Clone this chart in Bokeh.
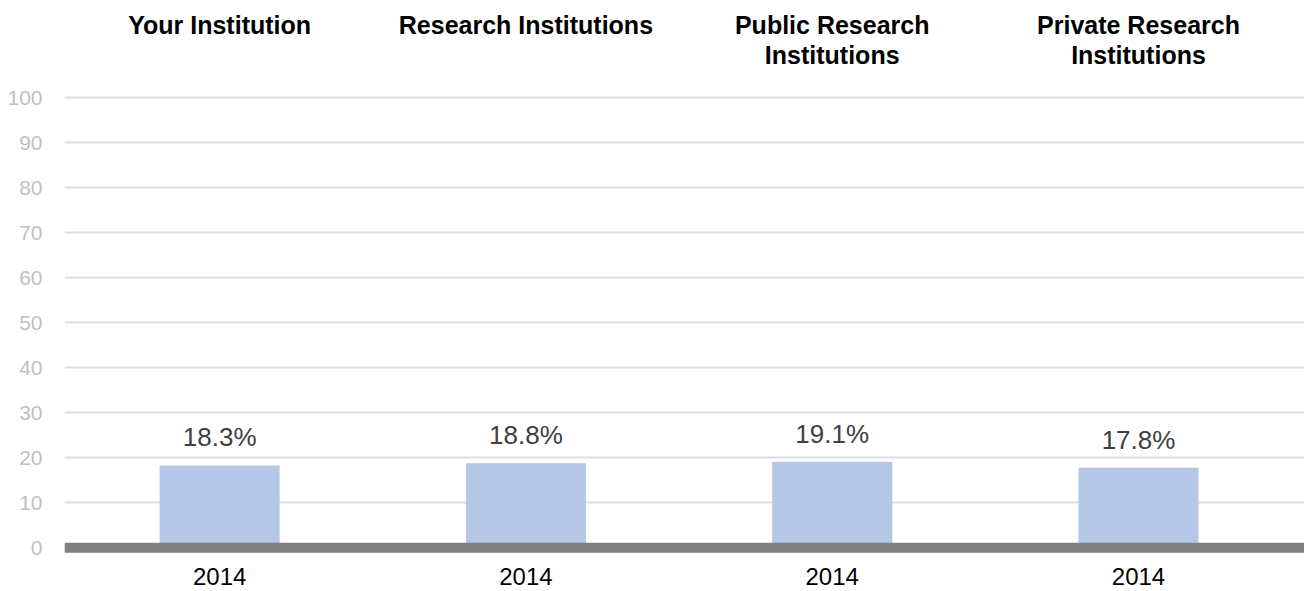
from bokeh.plotting import figure
from bokeh.models import ColumnDataSource, FixedTicker, Span, Range1d
from bokeh.core.properties import value
from bokeh.embed import file_html
from bokeh.resources import INLINE

# ---- data ----
groups = ["Your Institution", "Research Institutions",
          "Public Research\nInstitutions", "Private Research\nInstitutions"]
years = ["2014", "2014", "2014", "2014"]
values = [18.3, 18.8, 19.1, 17.8]
y_ticks = [0, 10, 20, 30, 40, 50, 60, 70, 80, 90, 100]

xs = [i + 0.5 for i in range(len(groups))]
labels = [f"{v:.1f}%" for v in values]

src = ColumnDataSource(dict(x=xs, top=values, group=groups, year=years, label=labels))

FONT = "Liberation Sans"

p = figure(width=1304, height=591, output_backend="svg", toolbar_location=None,
           x_range=Range1d(-0.0065, 4.042), y_range=Range1d(-9.71, 121.62),
           min_border_left=64, min_border_right=0, min_border_top=0, min_border_bottom=0)
p.outline_line_color = None
p.background_fill_color = "white"
p.border_fill_color = "white"
p.xaxis.visible = False

# bars
p.vbar(x="x", top="top", bottom=0, width=0.392, source=src,
       fill_color="#b4c7e7", line_color=None)

# baseline
p.add_layout(Span(location=0, dimension="width", line_color="#808080", line_width=10))

# data labels
p.text(x="x", y="top", text="label", source=src, text_align="center",
       text_baseline="alphabetic", y_offset=-28, text_font=value(FONT),
       text_font_size="26px", text_color="#404040")

# group titles
p.text(x="x", y=121.62, text="group", source=src, text_align="center",
       text_baseline="top", y_offset=10, text_font=value(FONT),
       text_font_size="25px", text_font_style="bold", text_color="black",
       text_line_height=1.1)

# category (year) labels under the baseline
p.text(x="x", y=0, text="year", source=src, text_align="center",
       text_baseline="alphabetic", y_offset=29, text_font=value(FONT),
       text_font_size="24px", text_color="black")

# y axis
p.yaxis.ticker = FixedTicker(ticks=y_ticks)
p.yaxis.axis_line_color = None
p.yaxis.major_tick_line_color = None
p.yaxis.minor_tick_line_color = None
p.yaxis.major_label_text_color = "#bfbfbf"
p.yaxis.major_label_text_font = FONT
p.yaxis.major_label_text_font_size = "21px"
p.yaxis.major_label_standoff = 16

# grid
p.xgrid.grid_line_color = None
p.ygrid.ticker = FixedTicker(ticks=y_ticks)
p.ygrid.grid_line_color = "#dedede"
p.ygrid.grid_line_width = 2

open("out.html", "w").write(file_html(p, INLINE))
